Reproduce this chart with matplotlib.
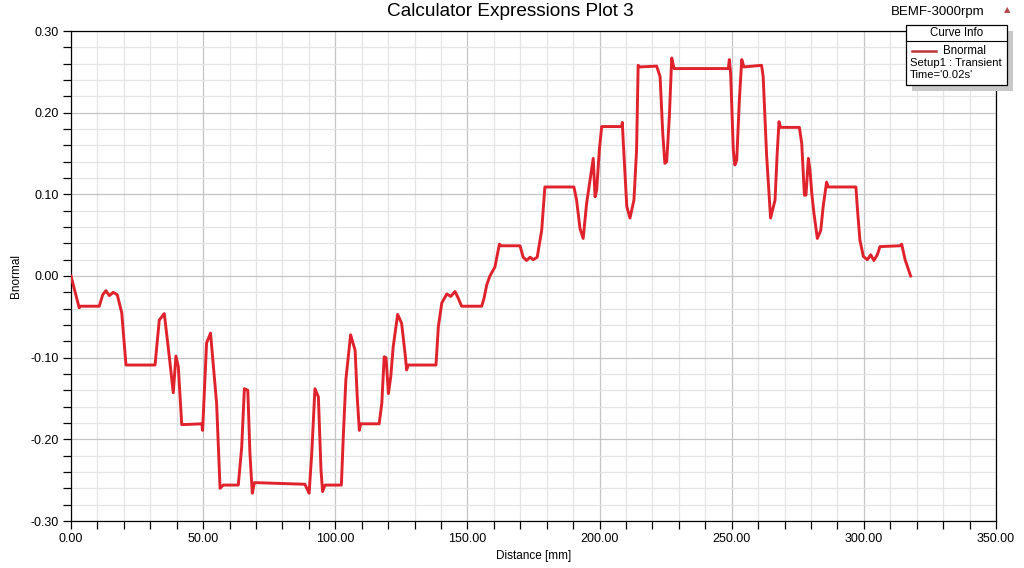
import matplotlib
matplotlib.use("Agg")
import matplotlib.pyplot as plt
from matplotlib.patches import Rectangle
from matplotlib.lines import Line2D
from matplotlib.ticker import MultipleLocator, FormatStrFormatter

plt.rcParams['font.family'] = ['Liberation Sans', 'DejaVu Sans']

# Bnormal along the airgap path
distance = [
    0.0, 3.1, 3.6, 10.7, 12.0, 13.2, 14.5, 16.0, 17.5, 19.2,
    20.8, 31.8, 33.4, 35.3, 37.2, 38.7, 39.7, 40.6, 41.9, 49.5,
    49.8, 51.3, 52.8, 55.1, 56.4, 57.6, 63.3, 64.6, 65.6, 66.9,
    67.7, 68.6, 69.4, 88.5, 90.1, 91.1, 92.3, 93.6, 94.6, 95.2,
    96.1, 102.3, 103.0, 104.0, 105.8, 107.5, 108.3, 109.1, 109.6, 116.6,
    117.6, 118.5, 119.2, 120.1, 121.0, 121.9, 123.6, 125.1, 126.4, 127.0,
    127.6, 138.1, 139.0, 140.3, 142.2, 143.7, 145.3, 146.5, 147.8, 155.4,
    156.3, 157.3, 158.5, 160.4, 162.1, 162.7, 169.9, 171.1, 172.4, 173.7,
    174.9, 176.4, 178.1, 179.3, 190.3, 191.3, 192.6, 193.8, 195.1, 196.4,
    197.6, 198.3, 198.9, 199.9, 200.8, 208.4, 208.6, 209.0, 210.3, 211.5,
    213.0, 214.0, 214.6, 215.3, 221.6, 222.9, 223.9, 224.7, 225.4, 226.4,
    227.3, 228.2, 248.7, 249.1, 249.6, 250.6, 251.2, 251.9, 252.9, 253.8,
    254.6, 261.3, 261.9, 263.2, 264.7, 266.4, 267.2, 267.9, 268.5, 275.6,
    276.5, 277.5, 278.1, 279.0, 279.6, 280.3, 281.1, 282.4, 283.7, 284.6,
    285.9, 286.5, 297.0, 297.5, 298.5, 299.8, 301.3, 302.6, 303.8, 305.1,
    306.1, 313.7, 314.3, 315.6, 317.7,
]
bnormal = [
    0.000, -0.039, -0.037, -0.037, -0.023, -0.018, -0.024, -0.020, -0.023, -0.045,
    -0.109, -0.109, -0.054, -0.046, -0.099, -0.143, -0.098, -0.111, -0.182, -0.181,
    -0.189, -0.082, -0.070, -0.156, -0.260, -0.256, -0.256, -0.209, -0.138, -0.140,
    -0.217, -0.266, -0.253, -0.255, -0.266, -0.217, -0.138, -0.148, -0.238, -0.264,
    -0.256, -0.256, -0.199, -0.127, -0.072, -0.091, -0.148, -0.189, -0.181, -0.181,
    -0.156, -0.099, -0.100, -0.144, -0.123, -0.087, -0.047, -0.058, -0.095, -0.115,
    -0.109, -0.109, -0.062, -0.033, -0.022, -0.025, -0.019, -0.027, -0.037, -0.037,
    -0.027, -0.011, 0.000, 0.011, 0.039, 0.037, 0.037, 0.023, 0.019, 0.023,
    0.020, 0.023, 0.056, 0.109, 0.109, 0.093, 0.058, 0.046, 0.089, 0.118,
    0.144, 0.097, 0.105, 0.154, 0.183, 0.183, 0.188, 0.162, 0.085, 0.071,
    0.093, 0.154, 0.258, 0.256, 0.257, 0.244, 0.175, 0.138, 0.140, 0.195,
    0.267, 0.254, 0.254, 0.265, 0.248, 0.154, 0.136, 0.142, 0.216, 0.265,
    0.256, 0.258, 0.244, 0.148, 0.071, 0.093, 0.150, 0.189, 0.182, 0.182,
    0.162, 0.099, 0.099, 0.144, 0.130, 0.101, 0.077, 0.046, 0.056, 0.085,
    0.115, 0.109, 0.109, 0.085, 0.044, 0.024, 0.020, 0.026, 0.019, 0.026,
    0.036, 0.037, 0.039, 0.020, 0.000,
]

title = "Calculator Expressions Plot 3"
design = "BEMF-3000rpm"
curve_name = "Bnormal"
curve_info = ["Setup1 : Transient", "Time='0.02s'"]
line_color = "#e0222c"

W, H = 1024, 568
fig = plt.figure(figsize=(W / 100, H / 100), dpi=100)
ax = fig.add_axes([71 / W, 1 - 521 / H, (996 - 71) / W, (521 - 31) / H])

ax.plot(distance, bnormal, color=line_color, lw=2.1, solid_joinstyle="round", zorder=3)

ax.set_xlim(0, 350)
ax.set_ylim(-0.30, 0.30)
ax.xaxis.set_major_locator(MultipleLocator(50))
ax.xaxis.set_minor_locator(MultipleLocator(10))
ax.yaxis.set_major_locator(MultipleLocator(0.10))
ax.yaxis.set_minor_locator(MultipleLocator(0.02))
ax.xaxis.set_major_formatter(FormatStrFormatter("%.2f"))
ax.yaxis.set_major_formatter(FormatStrFormatter("%.2f"))

ax.grid(which="minor", color="#e4e4e4", lw=0.9)
ax.grid(which="major", color="#c4c4c4", lw=0.9)
ax.set_axisbelow(True)

ax.tick_params(which="both", direction="out", length=6, width=0.9, color="black",
               labelsize=9, pad=3)
for s in ax.spines.values():
    s.set_linewidth(0.9)
    s.set_color("black")

ax.set_xlabel("Distance [mm]", fontsize=8.5, labelpad=3)
ax.set_ylabel("Bnormal", fontsize=8.5, labelpad=6)

fig.text(510 / W, 1 - 12 / H, title, ha="center", va="center", fontsize=13.7)
fig.text(938 / W, 1 - 12 / H, design, ha="center", va="center", fontsize=9.5)
fig.text(1007 / W, 1 - 10 / H, "\u25b2", ha="center", va="center", fontsize=6,
         color="#b24a4a", family=["DejaVu Sans"])

# Curve Info box (Ansys style)
def fx(px):
    return px / W

def fy(py):
    return 1 - py / H

fig.add_artist(Rectangle((fx(912), fy(91)), fx(101), 60 / H, transform=fig.transFigure,
                         facecolor="#c8c8c8", edgecolor="none", zorder=5))
fig.add_artist(Rectangle((fx(906), fy(85)), fx(101), 60 / H, transform=fig.transFigure,
                         facecolor="white", edgecolor="black", lw=0.9, zorder=6))
fig.add_artist(Line2D([fx(906), fx(1007)], [fy(41), fy(41)], transform=fig.transFigure,
                      color="black", lw=0.8, zorder=7))
fig.text(fx(957), fy(33), "Curve Info", ha="center", va="center", fontsize=8.3, zorder=7)
fig.add_artist(Line2D([fx(912), fx(936)], [fy(51), fy(51)], transform=fig.transFigure,
                      color="#c0343c", lw=1.8, zorder=7))
fig.text(fx(943), fy(51), curve_name, ha="left", va="center", fontsize=8.3, zorder=7)
fig.text(fx(910), fy(63), curve_info[0], ha="left", va="center", fontsize=8.1, zorder=7)
fig.text(fx(910), fy(75), curve_info[1], ha="left", va="center", fontsize=8.1, zorder=7)

fig.savefig("out.png", dpi=100)
